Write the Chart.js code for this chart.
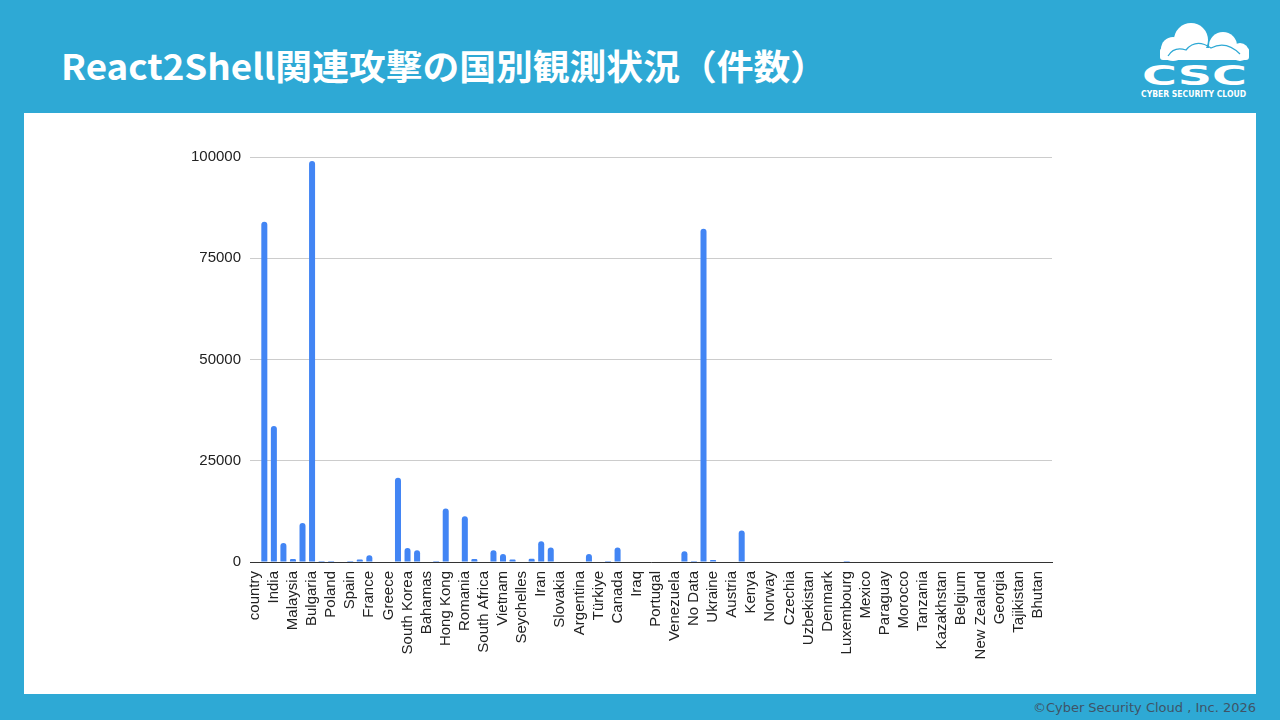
<!DOCTYPE html>
<html lang="ja">
<head>
<meta charset="utf-8">
<title>React2Shell関連攻撃の国別観測状況（件数）</title>
<script src="https://cdn.jsdelivr.net/npm/chart.js@4.4.1/dist/chart.umd.min.js"></script>
<style>
  html, body { margin: 0; padding: 0; }
  body {
    width: 1280px;
    height: 720px;
    background: #2ea9d5;
    position: relative;
    overflow: hidden;
    font-family: "Liberation Sans", Arial, sans-serif;
  }
  #title {
    position: absolute;
    left: 61px;
    top: 47px;
    margin: 0;
    color: #fff;
    font: 700 35px/1 "Noto Sans CJK JP", sans-serif;
    white-space: nowrap;
    transform-origin: left center;
  }
  #logo { position: absolute; left: 1136px; top: 18px; }
  #panel {
    position: absolute;
    left: 24px;
    top: 113px;
    width: 1232px;
    height: 581px;
    background: #fff;
  }
  #footer {
    position: absolute;
    right: 24px;
    top: 701px;
    color: #3f5467;
    font: 13px/1 "DejaVu Sans", sans-serif;
    white-space: nowrap;
  }
</style>
</head>
<body>

<h1 id="title">React2Shell関連攻撃の国別観測状況（件数）</h1>

<!-- company logo: cloud + wordmark -->
<svg id="logo" width="118" height="84" viewBox="0 0 118 84">
  <g fill="#fff">
    <circle cx="37" cy="31" r="12"/>
    <circle cx="55" cy="22" r="17"/>
    <circle cx="87" cy="28" r="14"/>
    <circle cx="104" cy="34" r="9"/>
    <rect x="24" y="30" width="89" height="12" rx="3"/>
  </g>
  <path d="M32 38 Q38 28 50 32 Q60 20 75 30 Q90 22 104 36" fill="none" stroke="#2ea9d5" stroke-width="1.2"/>
  <text x="6" y="67" textLength="105" lengthAdjust="spacingAndGlyphs"
        font-family="DejaVu Sans" font-weight="700" font-size="27" fill="#fff">CSC</text>
  <text x="5" y="79" textLength="105" lengthAdjust="spacingAndGlyphs"
        font-family="DejaVu Sans" font-weight="700" font-size="8" fill="#fff">CYBER SECURITY CLOUD</text>
</svg>

<div id="panel">
  <canvas id="chart" width="1232" height="581"></canvas>
</div>

<div id="footer">©Cyber Security Cloud , Inc. 2026</div>

<script>
// Category names in sheet order. The sheet only prints every second name,
// the ones in between are not readable in the source so they stay blank.
const categories = [
  "country", "", "India", "", "Malaysia", "", "Bulgaria", "", "Poland", "",
  "Spain", "", "France", "", "Greece", "", "South Korea", "", "Bahamas", "",
  "Hong Kong", "", "Romania", "", "South Africa", "", "Vietnam", "", "Seychelles", "",
  "Iran", "", "Slovakia", "", "Argentina", "", "Türkiye", "", "Canada", "",
  "Iraq", "", "Portugal", "", "Venezuela", "", "No Data", "", "Ukraine", "",
  "Austria", "", "Kenya", "", "Norway", "", "Czechia", "", "Uzbekistan", "",
  "Denmark", "", "Luxembourg", "", "Mexico", "", "Paraguay", "", "Morocco", "",
  "Tanzania", "", "Kazakhstan", "", "Belgium", "", "New Zealand", "", "Georgia", "",
  "Tajikistan", "", "Bhutan", ""
];

const attackCounts = [
  0, 84000, 33600, 4700, 750, 9600, 99000, 250, 250, 0,
  250, 600, 1650, 0, 0, 20800, 3450, 2900, 0, 250,
  13200, 0, 11300, 750, 0, 2900, 2000, 600, 0, 800,
  5100, 3550, 0, 0, 0, 2000, 0, 250, 3550, 0,
  0, 0, 0, 0, 0, 2650, 250, 82300, 500, 0,
  0, 7800, 0, 0, 0, 0, 0, 0, 0, 0,
  0, 0, 250, 0, 0, 0, 0, 0, 0, 0,
  0, 0, 0, 0, 0, 0, 0, 0, 0, 0,
  0, 0, 0, 0
];

const yTicks = [0, 25000, 50000, 75000, 100000];

// stretch the title to the width it has on the slide
const title = document.getElementById("title");
title.style.transform = "scaleX(" + (766 / title.offsetWidth) + ")";

const tickFont = { family: "'Liberation Sans', Arial, sans-serif", size: 15 };

new Chart(document.getElementById("chart"), {
  type: "bar",
  data: {
    labels: categories,
    datasets: [
      {
        label: "country",
        data: attackCounts,
        backgroundColor: "#4285f4",
        borderRadius: 3,
        barPercentage: 0.63,
        categoryPercentage: 1,
      },
    ],
  },
  options: {
    responsive: false,
    animation: false,
    devicePixelRatio: 1,
    layout: { padding: { top: 44, right: 204, left: 0, bottom: 0 } },
    plugins: {
      legend: { display: false },
      tooltip: { enabled: false },
    },
    scales: {
      x: {
        grid: { display: false },
        border: { color: "#333", width: 1 },
        ticks: {
          autoSkip: false,
          minRotation: 90,
          maxRotation: 90,
          padding: 1,
          color: "#222",
          font: tickFont,
        },
        afterFit: (scale) => { scale.height = 132; },
      },
      y: {
        min: yTicks[0],
        max: yTicks[yTicks.length - 1],
        afterBuildTicks: (scale) => { scale.ticks = yTicks.map((v) => ({ value: v })); },
        grid: { color: "#cccccc", drawTicks: false },
        border: { display: false },
        ticks: {
          padding: 9,
          color: "#222",
          font: tickFont,
          callback: (v) => String(v),
        },
        afterFit: (scale) => { scale.width = 226; },
      },
    },
  },
});
</script>
</body>
</html>
